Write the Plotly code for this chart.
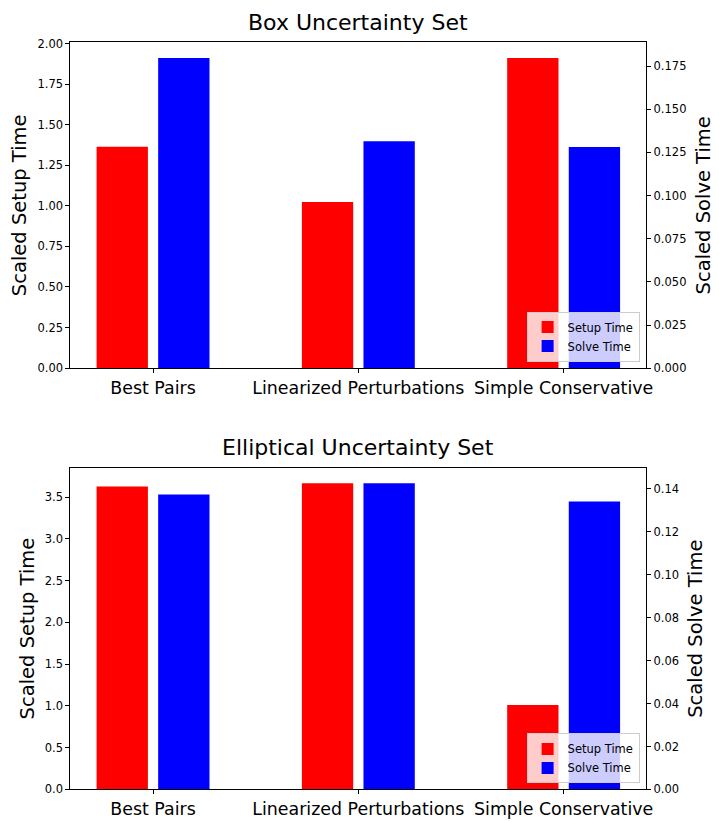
import plotly.graph_objects as go

# Methods compared in both panels
methods = ["Best Pairs", "Linearized Perturbations", "Simple Conservative"]
positions = [0, 1, 2]

# Box uncertainty set
box_setup = [1.364, 1.024, 1.911]
box_solve = [0.1797, 0.1315, 0.1281]

# Elliptical uncertainty set
ell_setup = [3.626, 3.667, 1.010]
ell_solve = [0.1374, 0.1427, 0.1342]

W, H = 719, 821
FONT = "DejaVu Sans"
RED, BLUE = "#ff0000", "#0000ff"
BAR_W = 0.25

# plot-area geometry in pixels
x_left, x_right = 71, 651.7
top_panel = (37, 368)
bot_panel = (469.3, 796)


def py(v):
    return 1 - v / H


x_dom = [x_left / W, x_right / W]
# bars span [-0.275, 2.275]; add 5% margins on each side
lo, hi = positions[0] - 0.275, positions[-1] + 0.275
pad = 0.05 * (hi - lo)
x_range = [lo - pad, hi + pad]

fig = go.Figure()

panels = [
    (box_setup, box_solve, "x", "y", "y2", "legend"),
    (ell_setup, ell_solve, "x2", "y3", "y4", "legend2"),
]
for setup, solve, xa, ya, ya2, lg in panels:
    fig.add_trace(go.Bar(x=positions, y=setup, width=BAR_W, offset=-0.275,
                         marker=dict(color=RED, line=dict(width=0)),
                         name="Setup Time", xaxis=xa, yaxis=ya, legend=lg))
    fig.add_trace(go.Bar(x=positions, y=solve, width=BAR_W, offset=0.025,
                         marker=dict(color=BLUE, line=dict(width=0)),
                         name="Solve Time", xaxis=xa, yaxis=ya2, legend=lg))

tick_font = dict(family=FONT, size=11.5, color="black")
common_x = dict(domain=x_dom, range=x_range, tickvals=positions, ticktext=methods,
                ticks="outside", ticklen=4, tickcolor="black", showline=True,
                linecolor="black", linewidth=1, mirror=True, showgrid=False,
                zeroline=False, tickfont=dict(family=FONT, size=17.4, color="black"))
common_y = dict(ticks="outside", ticklen=4, tickcolor="black", showline=True,
                linecolor="black", linewidth=1, showgrid=False, zeroline=False,
                tickfont=tick_font)

legend_style = dict(xanchor="right", yanchor="bottom",
                    bgcolor="rgba(255,255,255,0.8)", bordercolor="#cccccc",
                    borderwidth=1, font=dict(family=FONT, size=11.5, color="black"),
                    itemwidth=30, tracegroupgap=0)

fig.update_layout(
    width=W, height=H,
    margin=dict(l=0, r=0, t=0, b=0),
    paper_bgcolor="white", plot_bgcolor="white",
    font=dict(family=FONT, color="black"),
    barmode="overlay",
    xaxis=dict(anchor="y", **common_x),
    yaxis=dict(domain=[py(top_panel[1]), py(top_panel[0])],
               range=[0, 1.05 * max(box_setup)], dtick=0.25, tick0=0,
               tickformat=".2f", anchor="x", **common_y),
    yaxis2=dict(overlaying="y", side="right", anchor="x",
                range=[0, 1.05 * max(box_solve)], dtick=0.025, tick0=0,
                tickformat=".3f", **common_y),
    xaxis2=dict(anchor="y3", **common_x),
    yaxis3=dict(domain=[py(bot_panel[1]), py(bot_panel[0])],
                range=[0, 1.05 * max(ell_setup)], dtick=0.5, tick0=0,
                tickformat=".1f", anchor="x2", **common_y),
    yaxis4=dict(overlaying="y3", side="right", anchor="x2",
                range=[0, 1.05 * max(ell_solve)], dtick=0.02, tick0=0,
                tickformat=".2f", **common_y),
    legend=dict(x=645 / W, y=py(361.3), **legend_style),
    legend2=dict(x=645 / W, y=py(790), **legend_style),
    showlegend=True,
)

ann = []
# panel titles
ann.append(dict(text="Box Uncertainty Set", x=(x_left + x_right) / 2 / W, y=py(31),
                xref="paper", yref="paper", xanchor="center", yanchor="bottom",
                showarrow=False, font=dict(family=FONT, size=22, color="black")))
ann.append(dict(text="Elliptical Uncertainty Set", x=(x_left + x_right) / 2 / W,
                y=py(463), xref="paper", yref="paper", xanchor="center",
                yanchor="bottom", showarrow=False,
                font=dict(family=FONT, size=22, color="black")))
# axis titles
for txt, xc, yc in [("Scaled Setup Time", 19, (top_panel[0] + top_panel[1]) / 2),
                    ("Scaled Solve Time", 709, (top_panel[0] + top_panel[1]) / 2),
                    ("Scaled Setup Time", 28, (bot_panel[0] + bot_panel[1]) / 2),
                    ("Scaled Solve Time", 701, (bot_panel[0] + bot_panel[1]) / 2)]:
    ann.append(dict(text=txt, x=xc / W, y=py(yc), xref="paper", yref="paper",
                    xanchor="center", yanchor="middle", textangle=-90,
                    showarrow=False, font=dict(family=FONT, size=19.5, color="black")))
fig.update_layout(annotations=ann)

fig.write_html("out.html")
